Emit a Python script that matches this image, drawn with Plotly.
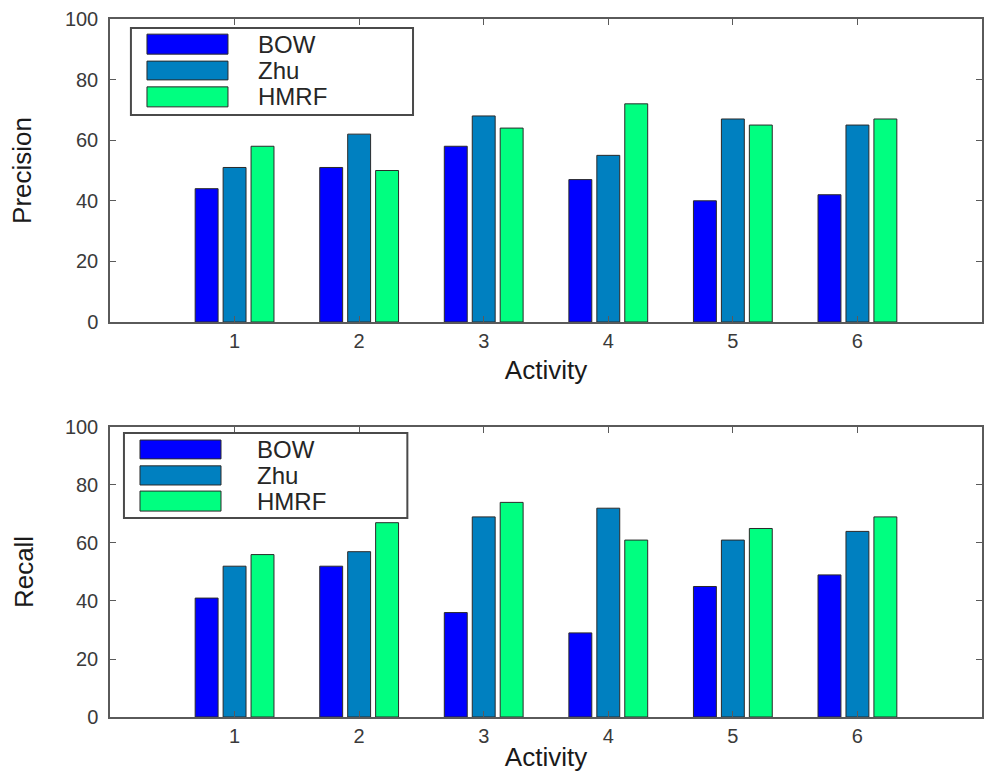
import plotly.graph_objects as go

# Activity categories and per-method scores
activities = [1, 2, 3, 4, 5, 6]
methods = ["BOW", "Zhu", "HMRF"]
colors = ["#0000FF", "#0080C0", "#00FF80"]

precision_bow = [44, 51, 58, 47, 40, 42]
precision_zhu = [51, 62, 68, 55, 67, 65]
precision_hmrf = [58, 50, 64, 72, 65, 67]

recall_bow = [41, 52, 36, 29, 45, 49]
recall_zhu = [52, 57, 69, 72, 61, 64]
recall_hmrf = [56, 67, 74, 61, 65, 69]

y_ticks = [0, 20, 40, 60, 80, 100]

FONT = "Liberation Sans, Arial, Helvetica, sans-serif"
AXIS_COLOR = "#5a5a5a"
TEXT_COLOR = "#3a3a3a"

fig = go.Figure()

panels = [
    ("x", "y", [precision_bow, precision_zhu, precision_hmrf]),
    ("x2", "y2", [recall_bow, recall_zhu, recall_hmrf]),
]
for xa, ya, series in panels:
    for name, vals, col in zip(methods, series, colors):
        fig.add_trace(go.Bar(
            x=activities, y=vals, name=name, xaxis=xa, yaxis=ya,
            marker=dict(color=col, line=dict(color="#2a2a2a", width=1)),
            showlegend=False,
        ))


def axis_style(**kw):
    base = dict(
        showline=True, linecolor=AXIS_COLOR, linewidth=1.5, mirror="ticks",
        ticks="inside", ticklen=6, tickwidth=1, tickcolor=AXIS_COLOR,
        showgrid=False, zeroline=False, automargin=False,
        tickfont=dict(family=FONT, size=20, color=TEXT_COLOR),
    )
    base.update(kw)
    return base


title_font = dict(family=FONT, size=26, color="#1a1a1a")

fig.update_layout(
    width=985, height=774,
    margin=dict(l=110, r=3, t=19, b=57),
    paper_bgcolor="white", plot_bgcolor="white",
    barmode="group", bargap=0.327, bargroupgap=0.18,
    xaxis=axis_style(domain=[0, 1], range=[0, 7], tickvals=activities, anchor="y",
                     title=dict(text="Activity", font=title_font, standoff=10)),
    yaxis=axis_style(domain=[0.5659, 1], range=[0, 100], tickvals=y_ticks, anchor="x",
                     ticklabelstandoff=6,
                     title=dict(text="Precision", font=title_font, standoff=26)),
    xaxis2=axis_style(domain=[0, 1], range=[0, 7], tickvals=activities, anchor="y2",
                      title=dict(text="Activity", font=title_font, standoff=2)),
    yaxis2=axis_style(domain=[0, 0.4155], range=[0, 100], tickvals=y_ticks, anchor="x2",
                      ticklabelstandoff=6,
                      title=dict(text="Recall", font=title_font, standoff=24)),
)

# Boxed legends drawn inside each panel (domain fractions of that panel)
legend_specs = [
    dict(xref="x domain", yref="y domain",
         box=(0.024, 0.683, 0.3475, 0.970),
         sw_x=(0.0424, 0.1353), rows=[(0.884, 0.950), (0.799, 0.861), (0.710, 0.776)],
         text_x=0.168),
    dict(xref="x2 domain", yref="y2 domain",
         box=(0.016, 0.686, 0.341, 0.979),
         sw_x=(0.0344, 0.1273), rows=[(0.890, 0.955), (0.800, 0.866), (0.710, 0.779)],
         text_x=0.166),
]

for spec in legend_specs:
    x0, y0, x1, y1 = spec["box"]
    fig.add_shape(type="rect", xref=spec["xref"], yref=spec["yref"],
                  x0=x0, y0=y0, x1=x1, y1=y1,
                  line=dict(color="#4a4a4a", width=2), fillcolor="white", layer="above")
    for (ry0, ry1), name, col in zip(spec["rows"], methods, colors):
        fig.add_shape(type="rect", xref=spec["xref"], yref=spec["yref"],
                      x0=spec["sw_x"][0], x1=spec["sw_x"][1], y0=ry0, y1=ry1,
                      line=dict(color="#2a2a2a", width=1), fillcolor=col, layer="above")
        fig.add_annotation(xref=spec["xref"], yref=spec["yref"],
                           x=spec["text_x"], y=(ry0 + ry1) / 2, text=name,
                           showarrow=False, xanchor="left", yanchor="middle",
                           font=dict(family=FONT, size=24, color="#262626"))

fig.write_html("out.html")
